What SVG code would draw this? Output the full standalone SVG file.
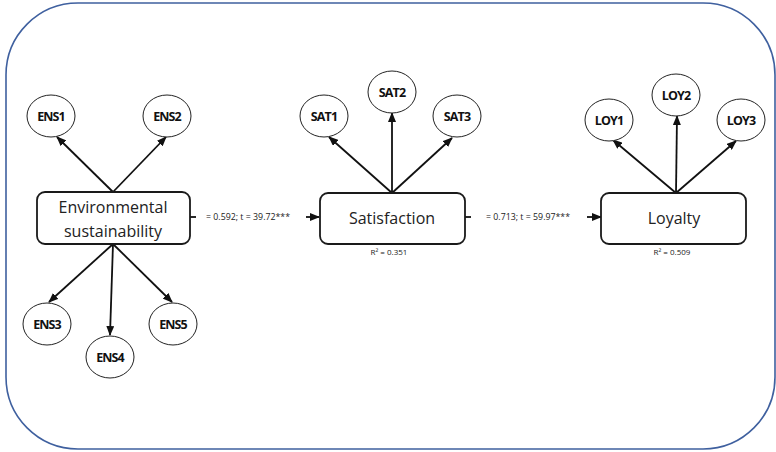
<svg xmlns="http://www.w3.org/2000/svg" width="776" height="452" viewBox="0 0 776 452">
<defs>
<marker id="ah" markerWidth="10" markerHeight="8" refX="9" refY="4" orient="auto" markerUnits="userSpaceOnUse">
<path d="M0,0 L10,4 L0,8 Z" fill="#111"/>
</marker>
<style>
.frame{fill:#fff;stroke:#3f609f;stroke-width:1.6}
.ind ellipse{fill:#fff;stroke:#222;stroke-width:1}
.ind text{font-family:"Open Sans","DejaVu Sans",sans-serif;font-weight:bold;font-size:12.5px;letter-spacing:-0.9px;text-anchor:middle;dominant-baseline:central;fill:#111}
.lat rect{fill:#fff;stroke:#1a1a1a;stroke-width:1.8}
.lat text{font-family:"Open Sans","DejaVu Sans",sans-serif;font-size:16px;text-anchor:middle;dominant-baseline:central;fill:#222}
.r2{font-family:"Open Sans","DejaVu Sans",sans-serif;font-size:8px;text-anchor:middle;fill:#222}
.edge{stroke:#111;stroke-width:1.8;fill:none}
.arr{marker-end:url(#ah)}
.lbl{font-family:"Open Sans","DejaVu Sans",sans-serif;font-size:8.8px;fill:#222;dominant-baseline:central}
</style>
</defs>
<rect class="frame" x="6" y="3" width="769" height="446" rx="72" ry="72"/>

<g id="connectors">
<line class="edge arr" x1="113" y1="192" x2="57" y2="137"/>
<line class="edge arr" x1="113" y1="192" x2="166" y2="137"/>
<line class="edge arr" x1="113" y1="244" x2="49" y2="302"/>
<line class="edge arr" x1="113" y1="244" x2="110" y2="335"/>
<line class="edge arr" x1="113" y1="244" x2="172" y2="302"/>
<line class="edge arr" x1="392" y1="193" x2="329" y2="137"/>
<line class="edge arr" x1="392" y1="193" x2="392" y2="113"/>
<line class="edge arr" x1="392" y1="193" x2="452" y2="138"/>
<line class="edge arr" x1="676" y1="193" x2="613" y2="140"/>
<line class="edge arr" x1="676" y1="193" x2="677" y2="116"/>
<line class="edge arr" x1="676" y1="193" x2="736" y2="141"/>
<line class="edge" x1="190" y1="217" x2="196" y2="217"/>
<line class="edge arr" x1="306" y1="217" x2="319" y2="217"/>
<text class="lbl" x="206" y="217">= 0.592; t = 39.72***</text>
<line class="edge" x1="465" y1="217" x2="471" y2="217"/>
<line class="edge arr" x1="587" y1="217" x2="601" y2="217"/>
<text class="lbl" x="486" y="217">= 0.713; t = 59.97***</text>
</g>

<g id="ES" class="lat">
<rect x="37" y="192" width="153" height="52" rx="8"/>
<text x="113" y="207">Environmental</text>
<text x="113" y="231">sustainability</text>
</g>
<g id="SAT" class="lat">
<rect x="320" y="193" width="145" height="51" rx="8"/>
<text x="392" y="218">Satisfaction</text>
</g>
<text class="r2" x="389" y="255">R² = 0.351</text>
<g id="LOY" class="lat">
<rect x="601" y="193" width="145" height="51" rx="8"/>
<text x="674" y="218">Loyalty</text>
</g>
<text class="r2" x="672" y="255">R² = 0.509</text>

<g id="ENS1" class="ind"><ellipse cx="51" cy="116" rx="24" ry="21"/><text x="51" y="116">ENS1</text></g>
<g id="ENS2" class="ind"><ellipse cx="167" cy="116" rx="24" ry="21"/><text x="167" y="116">ENS2</text></g>
<g id="ENS3" class="ind"><ellipse cx="47" cy="324" rx="24" ry="21"/><text x="47" y="324">ENS3</text></g>
<g id="ENS4" class="ind"><ellipse cx="110" cy="357" rx="24" ry="21"/><text x="110" y="357">ENS4</text></g>
<g id="ENS5" class="ind"><ellipse cx="173" cy="324" rx="24" ry="21"/><text x="173" y="324">ENS5</text></g>
<g id="SAT1" class="ind"><ellipse cx="324" cy="116" rx="24" ry="21"/><text x="324" y="116">SAT1</text></g>
<g id="SAT2" class="ind"><ellipse cx="392" cy="92" rx="24" ry="21"/><text x="392" y="92">SAT2</text></g>
<g id="SAT3" class="ind"><ellipse cx="457" cy="116" rx="24" ry="21"/><text x="457" y="116">SAT3</text></g>
<g id="LOY1" class="ind"><ellipse cx="609" cy="120" rx="24" ry="21"/><text x="609" y="120">LOY1</text></g>
<g id="LOY2" class="ind"><ellipse cx="676" cy="95" rx="24" ry="21"/><text x="676" y="95">LOY2</text></g>
<g id="LOY3" class="ind"><ellipse cx="741" cy="120" rx="24" ry="21"/><text x="741" y="120">LOY3</text></g>
</svg>
